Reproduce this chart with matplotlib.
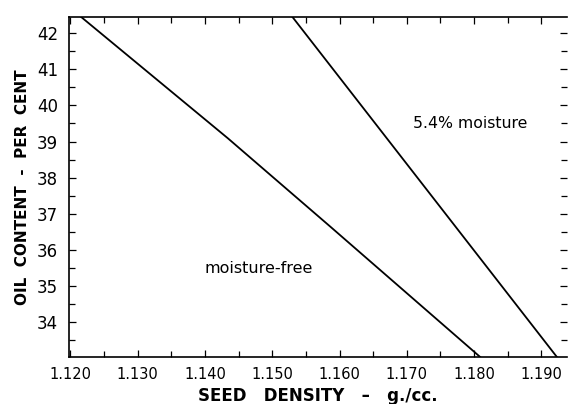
import matplotlib
matplotlib.use('Agg')
import matplotlib.pyplot as plt
from matplotlib.ticker import MultipleLocator, FormatStrFormatter

# moisture-free seed
dry_density = [1.1216, 1.1434, 1.1587, 1.1809]
dry_oil = [42.45, 39.09, 36.63, 33.03]

# seed with 5.4 % moisture
wet_density = [1.1530, 1.1923]
wet_oil = [42.45, 33.03]

x_ticks = [1.120, 1.130, 1.140, 1.150, 1.160, 1.170, 1.180, 1.190]
y_ticks = [34, 35, 36, 37, 38, 39, 40, 41, 42]

fig = plt.figure(figsize=(5.69, 4.04), dpi=100)
ax = fig.add_axes([0.1213, 0.1163, 0.8752, 0.8417])

ax.plot(dry_density, dry_oil, color='black', lw=1.3)
ax.plot(wet_density, wet_oil, color='black', lw=1.3)

ax.text(1.1399, 35.49, 'moisture-free', fontsize=11.5, va='center', ha='left')
ax.text(1.1709, 39.5, '5.4% moisture', fontsize=11.3, va='center', ha='left')

ax.set_xlim(1.120 - 0.0002, 1.1938)
ax.set_ylim(33.03, 42.45)
ax.set_xticks(x_ticks)
ax.set_yticks(y_ticks)
ax.xaxis.set_major_formatter(FormatStrFormatter('%.3f'))
ax.xaxis.set_minor_locator(MultipleLocator(0.005))
ax.yaxis.set_minor_locator(MultipleLocator(0.5))
ax.tick_params(which='both', direction='in', top=True, right=True, width=0.9)
ax.tick_params(which='major', length=5)
ax.tick_params(which='minor', length=4)
ax.tick_params(axis='x', labelsize=10.5, pad=7)
ax.tick_params(axis='y', labelsize=12, pad=8)
ax.spines['right'].set_visible(False)
for s in ['left', 'bottom', 'top']:
    ax.spines[s].set_linewidth(1.2)

ax.set_xlabel('SEED   DENSITY   \u2013   g./cc.', fontsize=12, fontweight='bold', labelpad=4)
ax.set_ylabel('OIL  CONTENT  -  PER  CENT', fontsize=11, fontweight='bold', labelpad=5)

fig.savefig('out.png', dpi=100)
